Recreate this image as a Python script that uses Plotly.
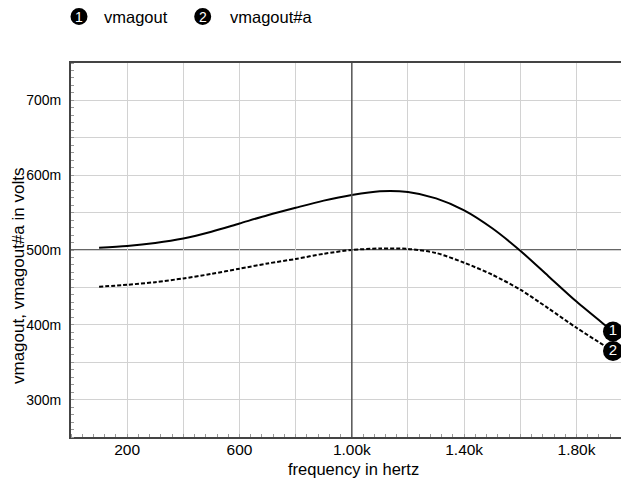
import plotly.graph_objects as go

# ---- data ----
freq_hz = [100, 200, 300, 400, 500, 600, 700, 800, 900, 1000,
           1100, 1200, 1300, 1400, 1500, 1600, 1700, 1800, 1900, 1930]
vmagout = [0.503, 0.5055, 0.5095, 0.5155, 0.5245, 0.5355, 0.5465, 0.5565, 0.566, 0.5735,
           0.5785, 0.5775, 0.569, 0.553, 0.529, 0.499, 0.465, 0.431, 0.400, 0.391]
vmagout_a = [0.451, 0.4535, 0.457, 0.462, 0.468, 0.475, 0.482, 0.488, 0.495, 0.500,
             0.502, 0.5015, 0.496, 0.483, 0.467, 0.447, 0.422, 0.396, 0.372, 0.365]
series_names = ["vmagout", "vmagout#a"]
series_ids = ["1", "2"]

x_grid_vals = [0, 200, 400, 600, 800, 1000, 1200, 1400, 1600, 1800]
x_label_map = {200: "200", 600: "600", 1000: "1.00k", 1400: "1.40k", 1800: "1.80k"}
y_grid_vals = [0.25, 0.30, 0.35, 0.40, 0.45, 0.50, 0.55, 0.60, 0.65, 0.70, 0.75]
y_label_map = {0.30: "300m", 0.40: "400m", 0.50: "500m", 0.60: "600m", 0.70: "700m"}
cursor_x = 1000
cursor_y = 0.5
x_title = "frequency in hertz"
y_title = "vmagout, vmagout#a in volts"

# ---- layout geometry (figure sits 8px in from the page corner) ----
W, H = 621, 474
ML, MR, MT, MB = 63, 0, 55, 45
PW, PH = W - ML - MR, H - MT - MB
FONT = "Liberation Sans, Arial, sans-serif"


def px_x(px):
    return (px - ML) / PW


def px_y(py):
    return (H - MB - py) / PH


fig = go.Figure()
fig.add_trace(go.Scatter(x=freq_hz, y=vmagout, mode="lines", name=series_names[0],
                         line=dict(color="black", width=2, shape="spline", smoothing=0.8),
                         showlegend=False))
fig.add_trace(go.Scatter(x=freq_hz, y=vmagout_a, mode="lines", name=series_names[1],
                         line=dict(color="black", width=2, dash="4px,2px",
                                   shape="spline", smoothing=0.8),
                         showlegend=False))
for vals, sid in ((vmagout, series_ids[0]), (vmagout_a, series_ids[1])):
    fig.add_trace(go.Scatter(x=[freq_hz[-1]], y=[vals[-1]], mode="markers+text",
                             text=[sid], textposition="middle center",
                             textfont=dict(color="white", size=15, family=FONT),
                             marker=dict(color="black", size=20),
                             cliponaxis=False, showlegend=False, hoverinfo="skip"))

shapes = [
    dict(type="line", xref="x", yref="paper", x0=cursor_x, x1=cursor_x, y0=0, y1=1,
         line=dict(color="#555555", width=1.5), layer="above"),
    dict(type="line", xref="paper", yref="y", x0=0, x1=1, y0=cursor_y, y1=cursor_y,
         line=dict(color="#333333", width=1.5), layer="below"),
]
annotations = []
legend_items = [(71, 93.7), (194.7, 219.7)]
LEG_Y = 8.5
for (cx, tx), sid, name in zip(legend_items, series_ids, series_names):
    shapes.append(dict(type="circle", xref="paper", yref="paper",
                       xsizemode="pixel", ysizemode="pixel",
                       xanchor=px_x(cx), yanchor=px_y(LEG_Y),
                       x0=-8.5, x1=8.5, y0=-8.5, y1=8.5,
                       fillcolor="black", line=dict(color="black", width=0)))
    annotations.append(dict(xref="paper", yref="paper", x=px_x(cx), y=px_y(LEG_Y),
                            text=sid, showarrow=False, xanchor="center", yanchor="middle",
                            font=dict(color="white", size=14, family=FONT)))
    annotations.append(dict(xref="paper", yref="paper", x=px_x(tx), y=px_y(LEG_Y),
                            text=name, showarrow=False, xanchor="left", yanchor="middle",
                            font=dict(color="black", size=16.5, family=FONT)))

annotations.append(dict(xref="paper", yref="paper", x=px_x(345), y=px_y(461),
                        text=x_title, showarrow=False, xanchor="center", yanchor="middle",
                        font=dict(color="black", size=16.5, family=FONT)))
annotations.append(dict(xref="paper", yref="paper", x=px_x(10), y=px_y(268),
                        text=y_title, showarrow=False, textangle=-90,
                        xanchor="center", yanchor="middle",
                        font=dict(color="black", size=17, family=FONT)))

fig.update_layout(
    width=W, height=H, margin=dict(l=ML, r=MR, t=MT, b=MB),
    paper_bgcolor="white", plot_bgcolor="white",
    font=dict(family=FONT, color="black"),
    shapes=shapes, annotations=annotations, showlegend=False,
)
fig.update_xaxes(
    range=[0, 1987], tickmode="array", tickvals=x_grid_vals,
    ticktext=[x_label_map.get(v, "") for v in x_grid_vals],
    ticks="", ticklabelstandoff=-3, showgrid=True, gridcolor="#d2d2d2", gridwidth=1,
    showline=True, linecolor="#444444", linewidth=2, mirror=True,
    tickfont=dict(size=15.5, family=FONT), zeroline=False,
    minor=dict(tickmode="linear", tick0=0, dtick=40, ticks="inside", ticklen=3,
               tickcolor="#999999", showgrid=False),
)
fig.update_yaxes(
    range=[0.25, 0.75], tickmode="array", tickvals=y_grid_vals,
    ticktext=[y_label_map.get(round(v, 2), "") for v in y_grid_vals],
    ticks="", ticklabelstandoff=5, showgrid=True, gridcolor="#d2d2d2", gridwidth=1,
    showline=True, linecolor="#444444", linewidth=2,
    tickfont=dict(size=14, family=FONT), zeroline=False,
    minor=dict(tickmode="linear", tick0=0.25, dtick=0.01, ticks="inside", ticklen=3,
               tickcolor="#999999", showgrid=False),
)

fig.write_html("out.html")
